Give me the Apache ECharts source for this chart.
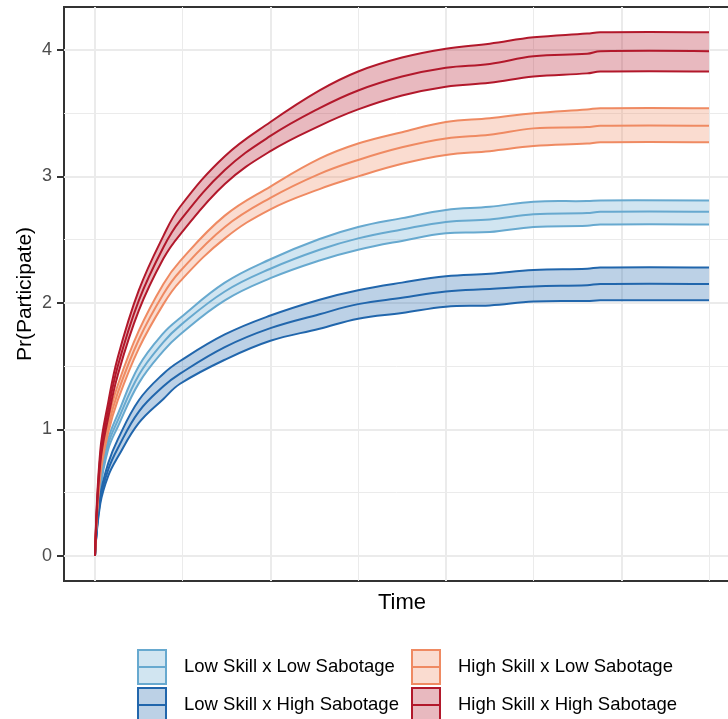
<!DOCTYPE html>
<html><head><meta charset="utf-8">
<script src="https://cdn.jsdelivr.net/npm/echarts@6/dist/echarts.min.js"></script>
<style>html,body{margin:0;padding:0;background:#fff}#c{width:728px;height:719px}</style>
</head><body><div id="c"></div>
<script>
// ---- data ----
const time = [0,0.3,0.75,1.3,2.5,3.9,4.85,7.4,10,12.8,15,17.5,20,22.5,25,28.05,28.8,35];

const llName = 'Low Skill x Low Sabotage';
const llMean  = [0,0.55,0.88,1.07,1.43,1.69,1.82,2.09,2.27,2.42,2.51,2.58,2.64,2.66,2.70,2.71,2.72,2.72];
const llUpper = [0,0.58,0.92,1.12,1.50,1.76,1.88,2.16,2.345,2.505,2.60,2.67,2.735,2.76,2.80,2.805,2.81,2.81];
const llLower = [0,0.52,0.84,1.02,1.365,1.62,1.75,2.02,2.195,2.335,2.42,2.49,2.55,2.56,2.60,2.61,2.62,2.62];

const lhName = 'Low Skill x High Sabotage';
const lhMean  = [0,0.44,0.68,0.85,1.14,1.34,1.44,1.65,1.80,1.91,1.99,2.04,2.09,2.11,2.13,2.14,2.15,2.15];
const lhUpper = [0,0.47,0.73,0.92,1.23,1.44,1.54,1.75,1.90,2.025,2.10,2.16,2.21,2.23,2.26,2.27,2.28,2.28];
const lhLower = [0,0.41,0.63,0.78,1.05,1.24,1.36,1.55,1.70,1.795,1.875,1.92,1.97,1.98,2.01,2.015,2.02,2.02];

const hlName = 'High Skill x Low Sabotage';
const hlMean  = [0,0.67,1.02,1.29,1.71,2.07,2.25,2.60,2.83,3.02,3.13,3.23,3.30,3.33,3.38,3.39,3.40,3.40];
const hlUpper = [0,0.71,1.07,1.35,1.78,2.15,2.33,2.69,2.92,3.14,3.26,3.35,3.43,3.46,3.50,3.53,3.54,3.54];
const hlLower = [0,0.63,0.97,1.23,1.64,1.99,2.17,2.51,2.74,2.90,3.00,3.10,3.17,3.20,3.24,3.26,3.27,3.27];

const hhName = 'High Skill x High Sabotage';
const hhMean  = [0,0.78,1.15,1.50,2.02,2.44,2.65,3.05,3.32,3.54,3.68,3.79,3.86,3.89,3.95,3.97,3.99,3.99];
const hhUpper = [0,0.83,1.21,1.57,2.10,2.53,2.76,3.16,3.43,3.68,3.83,3.94,4.01,4.05,4.10,4.13,4.14,4.14];
const hhLower = [0,0.73,1.09,1.43,1.94,2.35,2.54,2.94,3.20,3.40,3.53,3.64,3.71,3.74,3.79,3.815,3.83,3.83];

// ---- layout ----
const FONT = "'Liberation Sans', Arial, Helvetica, sans-serif";
const PANEL = {left:64, top:7, width:676, height:574};
const pxX = 614 / 35;                       // px per time unit
const X_MIN = -(95 - PANEL.left) / pxX;     // ggplot-style expansion
const X_MAX = X_MIN + PANEL.width / pxX;
const Y_MIN = -0.2, Y_MAX = 4.34;
const pxY = PANEL.height / (Y_MAX - Y_MIN);
const X0 = PANEL.left - X_MIN * pxX;        // pixel of time 0
const SMOOTH = 0.4;

const groups = [
  {key:'ll', name:llName, mean:llMean, up:llUpper, lo:llLower, line:'#67A9CF', fill:'rgba(103,169,207,0.3)'},
  {key:'lh', name:lhName, mean:lhMean, up:lhUpper, lo:lhLower, line:'#2166AC', fill:'rgba(33,102,172,0.3)'},
  {key:'hl', name:hlName, mean:hlMean, up:hlUpper, lo:hlLower, line:'#EF8A62', fill:'rgba(239,138,98,0.3)'},
  {key:'hh', name:hhName, mean:hhMean, up:hhUpper, lo:hhLower, line:'#B2182B', fill:'rgba(178,24,43,0.3)'}
];

const series = [];
groups.forEach(g=>{
  series.push({
    type:'custom', name:g.key+'_band', xAxisIndex:0, yAxisIndex:0, silent:true, z:2, animation:false,
    data: time.map((t,i)=>[t, g.lo[i], g.up[i]]),
    encode:{x:0, y:[1,2]},
    renderItem:(params, api)=>{
      if (params.dataIndex !== 0) return null;
      const up = time.map((t,i)=>api.coord([t, g.up[i]]));
      const lo = time.map((t,i)=>api.coord([t, g.lo[i]])).reverse();
      const pts = [up[0]].concat(up, [up[up.length-1]], [lo[0]], lo, [lo[lo.length-1]]);
      return {type:'polygon', shape:{points:pts, smooth:SMOOTH}, style:{fill:g.fill, stroke:null}};
    }
  });
});
function lineSeries(name, arr, color){
  return {
    type:'custom', name:name, xAxisIndex:0, yAxisIndex:0, silent:true, z:3, animation:false,
    data: time.map((t,i)=>[t, arr[i]]),
    encode:{x:0, y:1},
    renderItem:(params, api)=>{
      if (params.dataIndex !== 0) return null;
      const pts = time.map((t,i)=>api.coord([t, arr[i]]));
      return {type:'polyline', shape:{points:pts, smooth:SMOOTH}, style:{fill:null, stroke:color, lineWidth:2, lineJoin:'round'}};
    }
  };
}
groups.forEach(g=>{
  series.push(lineSeries(g.key+'_lower', g.lo, g.line));
  series.push(lineSeries(g.key+'_upper', g.up, g.line));
  series.push(lineSeries(g.name, g.mean, g.line));
});

const iconPath = 'path://M0,0L28,0L28,34L0,34Z M0,17L28,17';
function legendItem(g){
  return {name:g.name, icon:iconPath, itemStyle:{color:g.fill, borderColor:g.line, borderWidth:2, opacity:1}};
}
const legendCommon = {
  orient:'vertical', itemWidth:28, itemHeight:34, itemGap:2, padding:0, height:120,
  selectedMode:false, symbolKeepAspect:false,
  textStyle:{fontFamily:FONT, fontSize:18.5, color:'#000', padding:[0,0,0,13]}
};

const gridLine = {color:'#EBEBEB', width:2, type:'solid'};
const gridLineMinor = {color:'#EBEBEB', width:1, type:'solid'};
const hidden = {axisLine:{show:false}, axisTick:{show:false}, axisLabel:{show:false}};

const chart = echarts.init(document.getElementById('c'), null, {renderer:'canvas'});
chart.setOption({
  animation:false,
  backgroundColor:'#fff',
  textStyle:{fontFamily:FONT},
  grid:[
    // 0: panel with data
    {left:PANEL.left, top:PANEL.top, width:PANEL.width, height:PANEL.height, show:true,
     borderColor:'#333333', borderWidth:2, backgroundColor:'transparent', outerBoundsMode:'none', containLabel:false},
    // 1: minor vertical grid lines, time 0..35 step 5
    {left:X0, top:PANEL.top, width:35*pxX, height:PANEL.height, show:false, outerBoundsMode:'none'},
    // 2: major vertical grid lines, time 0..30 step 10
    {left:X0, top:PANEL.top, width:30*pxX, height:PANEL.height, show:false, outerBoundsMode:'none'},
    // 3: horizontal grid lines + y labels, 0..4
    {left:PANEL.left, top:PANEL.top + (Y_MAX - 4)*pxY, width:PANEL.width, height:4*pxY, show:false, outerBoundsMode:'none'}
  ],
  xAxis:[
    Object.assign({gridIndex:0, type:'value', min:X_MIN, max:X_MAX,
     name:'Time', nameLocation:'middle', nameGap:11,
     nameTextStyle:{fontFamily:FONT, fontSize:22, color:'#000'}, splitLine:{show:false}}, hidden),
    Object.assign({gridIndex:1, type:'value', min:0, max:35, interval:5,
     splitLine:{show:true, lineStyle:gridLineMinor}}, hidden),
    Object.assign({gridIndex:2, type:'value', min:0, max:30, interval:10,
     splitLine:{show:true, lineStyle:gridLine}}, hidden),
    {gridIndex:3, type:'value', min:0, max:1, show:false}
  ],
  yAxis:[
    Object.assign({gridIndex:0, type:'value', min:Y_MIN, max:Y_MAX,
     name:'Pr(Participate)', nameLocation:'middle', nameGap:28, nameRotate:90,
     nameTextStyle:{fontFamily:FONT, fontSize:21, color:'#000'}, splitLine:{show:false}}, hidden),
    {gridIndex:1, type:'value', min:0, max:1, show:false},
    {gridIndex:2, type:'value', min:0, max:1, show:false},
    {gridIndex:3, type:'value', min:0, max:4, interval:1,
     axisLine:{show:false},
     axisTick:{show:true, length:7, lineStyle:{color:'#333333', width:2}},
     axisLabel:{show:true, fontFamily:FONT, fontSize:18, color:'#4D4D4D', margin:12},
     splitLine:{show:true, lineStyle:gridLine},
     minorTick:{show:false, splitNumber:2}, minorSplitLine:{show:true, lineStyle:gridLineMinor}}
  ],
  legend:[
    Object.assign({}, legendCommon, {left:137, top:649, data:[legendItem(groups[0]), legendItem(groups[1])]}),
    Object.assign({}, legendCommon, {left:411, top:649, data:[legendItem(groups[2]), legendItem(groups[3])]})
  ],
  series:series
});
</script></body></html>
